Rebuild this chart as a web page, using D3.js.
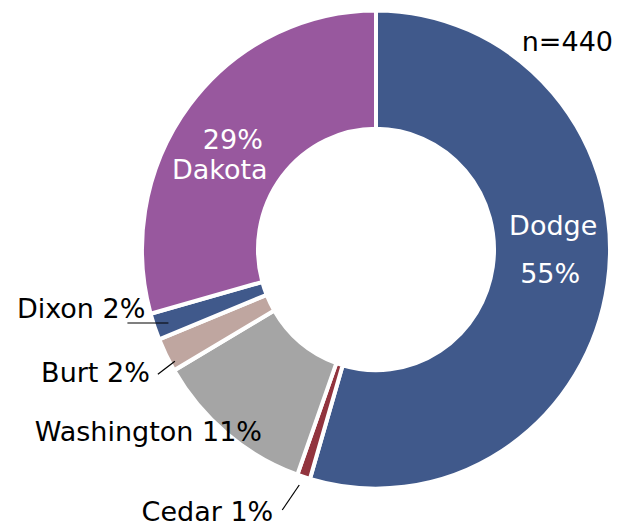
<!DOCTYPE html>
<html>
<head>
<meta charset="utf-8">
<script src="https://cdn.jsdelivr.net/npm/d3@7"></script>
<style>
  body { margin: 0; background: #fff; }
  text { font-family: "DejaVu Sans", sans-serif; font-size: 27px; }
</style>
</head>
<body>
<svg id="chart" width="622" height="529"></svg>
<script>
// counties, clockwise from 12 o'clock
var counties = ["Dodge", "Cedar", "Washington", "Burt", "Dixon", "Dakota"];
var shares = [54.5, 0.9, 11.1, 2.3, 1.8, 29.3];   // percent of respondents
var pctLabels = ["55%", "1%", "11%", "2%", "2%", "29%"];
var colors = ["#40598b", "#92343e", "#a5a5a5", "#bfa6a0", "#40598b", "#98589e"];
var sampleSize = "n=440";

var svg = d3.select("#chart"),
  cx = 376, cy = 249.5,
  outerR = 234, innerR = 118,
  squash = 1.022;

var pie = d3.pie().sort(null).value(function (d) { return d.v; });
var arc = d3.arc().innerRadius(innerR).outerRadius(outerR);

var data = counties.map(function (c, i) {
  return { name: c, v: shares[i], pct: pctLabels[i], color: colors[i] };
});
var arcs = pie(data);

var g = svg.append("g")
  .attr("transform", "translate(" + cx + "," + cy + ") scale(1," + squash + ")");

g.selectAll("path")
  .data(arcs)
  .enter().append("path")
  .attr("d", arc)
  .attr("fill", function (d) { return d.data.color; })
  .attr("stroke", "#fff")
  .attr("stroke-width", 4);

// point on the ring at the slice's middle angle, in page coords
function ringPoint(d, r) {
  var a = (d.startAngle + d.endAngle) / 2;
  return [cx + r * Math.sin(a), cy - r * Math.cos(a) * squash];
}

var lab = svg.append("g");

// labels inside the ring (white)
var inside = {
  Dodge: [{ t: "name", dx: 3, dy: -40 }, { t: "pct", dx: 0, dy: 8 }],
  Dakota: [{ t: "pct", dx: -3, dy: 8 }, { t: "name", dx: -16, dy: 38 }]
};
// labels outside, right aligned, with optional leader line
function nameAndPct(d) { return d.data.name + " " + d.data.pct; }
var outside = {
  Dixon: { tx: -11, ty: -8, line: [[-29, -3], [12, -3]] },
  Burt: { tx: -18, ty: 28, line: [[-10, 20], [7, 7]] },
  Washington: { tx: 34, ty: 9, line: null },
  Cedar: { tx: -31, ty: 46, line: [[-22, 35], [-5, 10]] }
};

arcs.forEach(function (d) {
  var name = d.data.name;
  if (inside[name]) {
    var c = ringPoint(d, (innerR + outerR) / 2);
    inside[name].forEach(function (l) {
      lab.append("text")
        .attr("x", c[0] + l.dx)
        .attr("y", c[1] + l.dy)
        .attr("text-anchor", "middle")
        .attr("fill", "#fff")
        .text(l.t == "name" ? name : d.data.pct);
    });
  } else if (outside[name]) {
    var o = outside[name];
    var p = ringPoint(d, outerR - 2);
    if (o.line) {
      lab.append("line")
        .attr("x1", p[0] + o.line[0][0]).attr("y1", p[1] + o.line[0][1])
        .attr("x2", p[0] + o.line[1][0]).attr("y2", p[1] + o.line[1][1])
        .attr("stroke", "#000")
        .attr("stroke-width", 1.2);
    }
    lab.append("text")
      .attr("x", p[0] + o.tx)
      .attr("y", p[1] + o.ty)
      .attr("text-anchor", "end")
      .attr("fill", "#000")
      .text(nameAndPct(d));
  }
});

svg.append("text")
  .attr("x", 613)
  .attr("y", 51)
  .attr("text-anchor", "end")
  .attr("fill", "#000")
  .text(sampleSize);
</script>
</body>
</html>
